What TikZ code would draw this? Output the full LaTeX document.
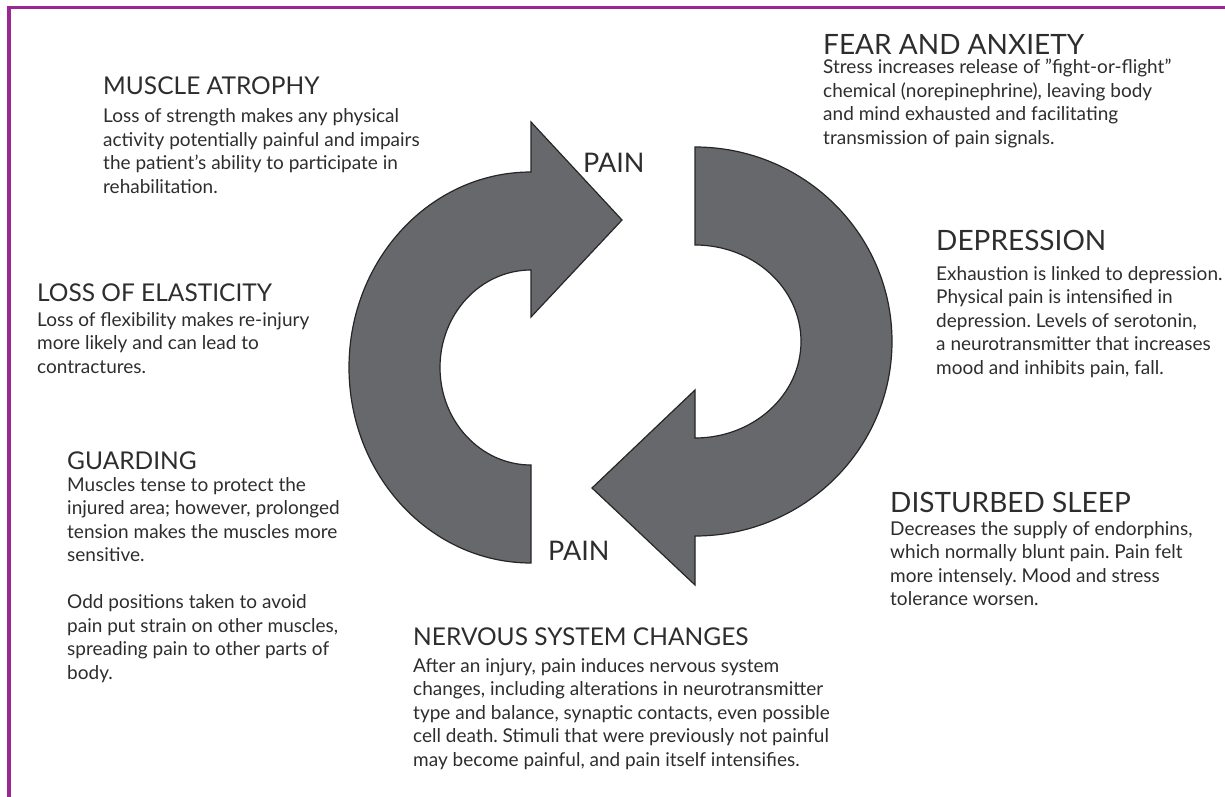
\documentclass[tikz,border=0pt]{standalone}
\usepackage{fontspec}
\setmainfont{Lato}
\frenchspacing
\usetikzlibrary{positioning}
\definecolor{framepurple}{RGB}{155,40,146}
\definecolor{arrowgray}{RGB}{103,104,108}
\definecolor{textgray}{RGB}{45,45,45}
\newcommand{\headfont}{\fontsize{24.5}{28}\selectfont}
\newcommand{\bigheadfont}{\fontsize{28}{32}\selectfont}
\newcommand{\bodyfont}{\fontsize{19}{23.5}\selectfont}
\newcommand{\textlines}[1]{\begin{tabular}[t]{@{}l@{}}#1\end{tabular}}
\tikzset{
  cyclearrow/.style={fill=arrowgray, draw=black!85, line width=1.2pt, line join=miter},
  heading/.style={anchor=base west, inner sep=0, text=textgray, font=\headfont},
  bigheading/.style={heading, font=\bigheadfont},
  body/.style={anchor=base west, inner sep=0, text=textgray, font=\bodyfont},
  painlabel/.style={anchor=base west, inner sep=0, text=textgray, font=\fontsize{27}{30}\selectfont},
}
\begin{document}
\begin{tikzpicture}[x=1pt,y=-1pt]
    \useasboundingbox (0,0) rectangle (1225,797);
    \draw[framepurple, line width=3.5pt] (9,797) -- (9,7.5) -- (1225,7.5);

    % upper arrow, pointing right
    \draw[cyclearrow] (531,122) -- (622,220) -- (531,317) -- (531,270)
        arc[start angle=-90, end angle=-270, x radius=91, y radius=97.5]
        -- (531,563)
        arc[start angle=90, end angle=270, x radius=182, y radius=195.5]
        -- cycle;
    % lower arrow, pointing left
    \draw[cyclearrow] (695,147)
        arc[start angle=-90, end angle=90, x radius=197, y radius=194.5]
        -- (695,585) -- (592,488) -- (695,390) -- (695,438)
        arc[start angle=90, end angle=-90, x radius=106, y radius=96.5]
        -- cycle;

    \node[painlabel] (painup) at (583,172) {PAIN};
    \node[painlabel] (paindown) at (548,560) {PAIN};

    \node[heading] (atrophy) at (103,95) {MUSCLE ATROPHY};
    \node[body] (atrophytext) at (103,123) {\textlines{Loss of strength makes any physical\\
        activity potentially painful and impairs\\
        the patient’s ability to participate in\\
        rehabilitation.}};

    \node[bigheading] (fear) at (823,55) {FEAR AND ANXIETY};
    \node[body] (feartext) at (823,74) {\textlines{Stress increases release of ”fight-or-flight”\\
        chemical (norepinephrine), leaving body\\
        and mind exhausted and facilitating\\
        transmission of pain signals.}};

    \node[bigheading] (depression) at (936,250) {DEPRESSION};
    \node[body] (depressiontext) at (936,280) {\textlines{Exhaustion is linked to depression.\\
        Physical pain is intensified in\\
        depression. Levels of serotonin,\\
        a neurotransmitter that increases\\
        mood and inhibits pain, fall.}};

    \node[heading] (elasticity) at (37,301) {LOSS OF ELASTICITY};
    \node[body] (elasticitytext) at (37,326) {\textlines{Loss of flexibility makes re-injury\\
        more likely and can lead to\\
        contractures.}};

    \node[heading] (guarding) at (67,469) {GUARDING};
    \node[body] (guardingtext) at (67,491) {\textlines{Muscles tense to protect the\\
        injured area; however, prolonged\\
        tension makes the muscles more\\
        sensitive.\\
        \\
        Odd positions taken to avoid\\
        pain put strain on other muscles,\\
        spreading pain to other parts of\\
        body.}};

    \node[bigheading] (sleep) at (890,512) {DISTURBED SLEEP};
    \node[body] (sleeptext) at (890,535) {\textlines{Decreases the supply of endorphins,\\
        which normally blunt pain. Pain felt\\
        more intensely. Mood and stress\\
        tolerance worsen.}};

    \node[heading] (nervous) at (413,645) {NERVOUS SYSTEM CHANGES};
    \node[body] (nervoustext) at (413,672) {\textlines{After an injury, pain induces nervous system\\
        changes, including alterations in neurotransmitter\\
        type and balance, synaptic contacts, even possible\\
        cell death. Stimuli that were previously not painful\\
        may become painful, and pain itself intensifies.}};
\end{tikzpicture}
\end{document}
